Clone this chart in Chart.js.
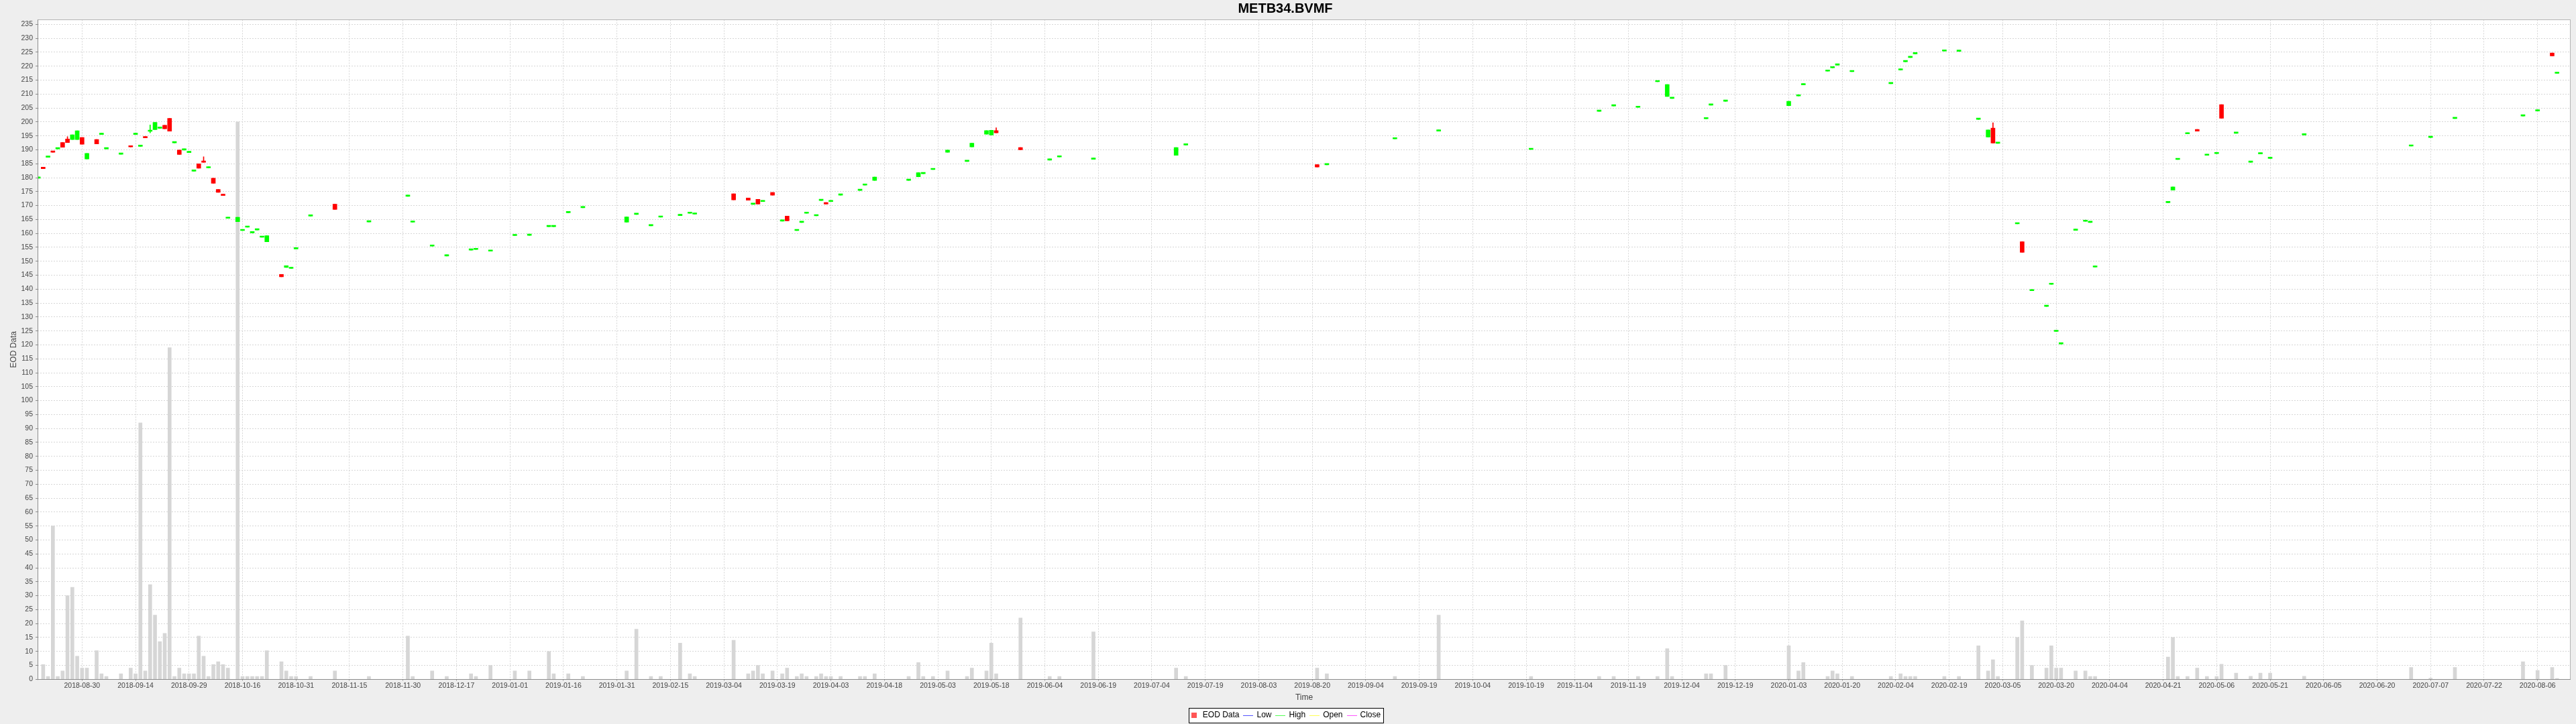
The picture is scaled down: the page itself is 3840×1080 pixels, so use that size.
<!DOCTYPE html>
<html>
<head>
<meta charset="utf-8">
<title>METB34.BVMF</title>
<script src="https://cdn.jsdelivr.net/npm/chart.js@4.4.0/dist/chart.umd.min.js"></script>
<style>
  html, body { margin: 0; padding: 0; background: #eeeeee; }
  #wrap { width: 3840px; height: 1080px; }
</style>
</head>
<body>
<div id="wrap"><canvas id="eodChart" width="3840" height="1080"></canvas></div>
<script>
// EOD candles for METB34 (trading days only, gaps where nothing traded)
const dates = [
  '2018-08-17','2018-08-20','2018-08-21','2018-08-22','2018-08-23','2018-08-24','2018-08-27','2018-08-28','2018-08-29','2018-08-30',
  '2018-08-31','2018-09-04','2018-09-05','2018-09-06','2018-09-11','2018-09-13','2018-09-14','2018-09-17','2018-09-18','2018-09-19',
  '2018-09-20','2018-09-21','2018-09-24','2018-09-25','2018-09-26','2018-09-27','2018-09-28','2018-10-01','2018-10-02','2018-10-03',
  '2018-10-04','2018-10-05','2018-10-08','2018-10-09','2018-10-10','2018-10-11','2018-10-15','2018-10-16','2018-10-17','2018-10-18',
  '2018-10-19','2018-10-22','2018-10-23','2018-10-26','2018-10-29','2018-10-30','2018-10-31','2018-11-05','2018-11-12','2018-11-21',
  '2018-12-03','2018-12-04','2018-12-10','2018-12-13','2018-12-20','2018-12-21','2018-12-26','2019-01-02','2019-01-07','2019-01-11',
  '2019-01-14','2019-01-17','2019-01-22','2019-02-04','2019-02-06','2019-02-11','2019-02-13','2019-02-19','2019-02-21','2019-02-22',
  '2019-03-06','2019-03-11','2019-03-12','2019-03-13','2019-03-14','2019-03-18','2019-03-20','2019-03-21','2019-03-25','2019-03-26',
  '2019-03-27','2019-03-29','2019-04-01','2019-04-02','2019-04-03','2019-04-05','2019-04-11','2019-04-12','2019-04-16','2019-04-25',
  '2019-04-29','2019-04-30','2019-05-02','2019-05-07','2019-05-13','2019-05-14','2019-05-17','2019-05-20','2019-05-21','2019-05-28',
  '2019-06-05','2019-06-07','2019-06-18','2019-07-11','2019-07-15','2019-08-21','2019-08-23','2019-09-12','2019-09-25','2019-10-22',
  '2019-11-11','2019-11-14','2019-11-21','2019-11-27','2019-11-29','2019-12-02','2019-12-11','2019-12-12','2019-12-17','2020-01-03',
  '2020-01-07','2020-01-08','2020-01-15','2020-01-16','2020-01-17','2020-01-22','2020-02-03','2020-02-05','2020-02-06','2020-02-07',
  '2020-02-10','2020-02-18','2020-02-21','2020-02-27','2020-03-02','2020-03-03','2020-03-04','2020-03-10','2020-03-11','2020-03-13',
  '2020-03-18','2020-03-19','2020-03-20','2020-03-23','2020-03-26','2020-03-30','2020-03-31','2020-04-01','2020-04-22','2020-04-23',
  '2020-04-24','2020-04-28','2020-04-30','2020-05-04','2020-05-06','2020-05-07','2020-05-12','2020-05-15','2020-05-19','2020-05-21',
  '2020-06-01','2020-07-01','2020-07-07','2020-07-14','2020-08-03','2020-08-06','2020-08-11','2020-08-12'
];

const opens = [
  179.8, 183.8, 187.3, 189.5, 190.3, 192.6, 193.9, 193.7, 193.7, 194.4,
  186.7, 193.7, 195.5, 190.3, 188.4, 191.4, 195.5, 191.2, 194.7, 196.6,
  197.2, 197.7, 198.8, 201.3, 192.5, 189.9, 189.9, 189.0, 182.3, 185.0,
  185.8, 183.5, 179.8, 175.8, 174.0, 165.4, 164.2, 161.0, 162.2, 160.2,
  161.2, 158.6, 157.0, 145.3, 147.8, 147.4, 154.4, 166.2, 170.5, 164.1,
  173.3, 164.0, 155.4, 151.9, 154.0, 154.2, 153.6, 159.2, 159.3, 162.4,
  162.4, 167.4, 169.2, 164.0, 166.8, 162.7, 165.8, 166.4, 167.2, 166.9,
  174.2, 172.7, 170.4, 172.2, 171.4, 174.7, 164.4, 166.2, 161.0, 163.9,
  167.2, 166.3, 171.8, 171.1, 171.4, 173.7, 175.4, 177.3, 179.0, 179.0,
  180.3, 181.4, 182.9, 189.1, 185.8, 191.0, 195.6, 195.3, 196.9, 190.8,
  186.3, 187.4, 186.6, 188.0, 191.7, 184.7, 184.6, 193.9, 196.7, 190.1,
  203.8, 205.7, 205.2, 214.4, 209.1, 208.4, 201.1, 206.0, 207.4, 205.8,
  209.3, 213.3, 218.2, 219.4, 220.4, 218.0, 213.7, 218.6, 221.6, 223.1,
  224.4, 225.4, 225.3, 200.9, 194.6, 197.8, 192.3, 163.4, 157.0, 139.4,
  133.8, 141.7, 124.8, 120.3, 161.1, 164.3, 163.9, 147.9, 171.0, 175.5,
  186.5, 195.7, 197.3, 188.0, 188.6, 206.2, 195.9, 185.5, 188.5, 186.9,
  195.3, 191.3, 194.4, 201.2, 202.1, 203.9, 224.7, 217.4
];

const highs = [
  180.2, 183.8, 187.7, 189.5, 190.7, 192.6, 194.7, 195.4, 196.8, 194.4,
  188.7, 193.7, 195.9, 190.7, 188.8, 191.4, 195.9, 191.6, 194.7, 198.9,
  199.8, 198.1, 198.8, 201.3, 192.9, 189.9, 190.3, 189.4, 182.7, 185.0,
  187.5, 183.9, 179.8, 175.8, 174.0, 165.8, 165.8, 161.4, 162.6, 160.6,
  161.6, 159.0, 159.2, 145.3, 148.4, 147.8, 154.8, 166.6, 170.5, 164.5,
  173.7, 164.4, 155.8, 152.3, 154.4, 154.6, 153.9, 159.6, 159.7, 162.8,
  162.8, 167.8, 169.6, 165.9, 167.2, 163.1, 166.2, 166.8, 167.6, 167.3,
  174.2, 172.7, 170.8, 172.2, 171.8, 174.7, 164.8, 166.2, 161.4, 164.3,
  167.6, 166.7, 172.2, 171.1, 171.8, 174.1, 175.8, 177.7, 180.2, 179.4,
  181.8, 181.8, 183.3, 189.9, 186.2, 192.4, 196.9, 197.0, 197.9, 190.8,
  186.7, 187.8, 187.0, 190.8, 192.1, 184.7, 185.0, 194.3, 197.1, 190.5,
  204.2, 206.1, 205.6, 214.8, 213.4, 208.8, 201.5, 206.4, 207.8, 207.4,
  209.7, 213.7, 218.6, 219.8, 220.8, 218.4, 214.1, 219.0, 222.0, 223.5,
  224.8, 225.8, 225.7, 201.3, 197.1, 199.7, 192.7, 163.8, 157.0, 139.8,
  134.2, 142.1, 125.2, 120.7, 161.5, 164.7, 164.3, 148.3, 171.4, 176.7,
  186.9, 196.1, 197.3, 188.4, 189.0, 206.2, 196.3, 185.9, 188.9, 187.3,
  195.7, 191.7, 194.8, 201.6, 202.5, 204.3, 224.7, 217.8
];

const lows = [
  179.8, 183.2, 187.3, 189.1, 190.3, 190.9, 192.6, 193.7, 193.7, 192.0,
  186.7, 192.1, 195.5, 190.3, 188.4, 191.0, 195.5, 191.2, 194.3, 196.1,
  197.2, 197.7, 197.5, 196.7, 192.5, 188.3, 189.9, 189.0, 182.3, 183.4,
  185.5, 183.5, 178.0, 174.7, 173.6, 165.4, 164.2, 161.0, 162.2, 160.2,
  161.2, 158.6, 157.0, 144.4, 147.8, 147.4, 154.4, 166.2, 168.6, 164.1,
  173.3, 164.0, 155.4, 151.9, 154.0, 154.2, 153.6, 159.2, 159.3, 162.4,
  162.4, 167.4, 169.2, 164.0, 166.8, 162.7, 165.8, 166.4, 167.2, 166.9,
  172.0, 171.9, 170.4, 170.5, 171.4, 173.7, 164.4, 164.5, 161.0, 163.9,
  167.2, 166.3, 171.8, 170.5, 171.4, 173.7, 175.4, 177.3, 179.0, 179.0,
  180.3, 181.4, 182.9, 189.1, 185.8, 191.0, 195.6, 195.3, 196.1, 190.0,
  186.3, 187.4, 186.6, 188.0, 191.7, 183.8, 184.6, 193.9, 196.7, 190.1,
  203.8, 205.7, 205.2, 214.4, 209.1, 208.4, 201.1, 206.0, 207.4, 205.8,
  209.3, 213.3, 218.2, 219.4, 220.4, 218.0, 213.7, 218.6, 221.6, 223.1,
  224.4, 225.4, 225.3, 200.9, 194.6, 192.4, 192.3, 163.4, 153.2, 139.4,
  133.8, 141.7, 124.8, 120.3, 161.1, 164.3, 163.9, 147.9, 171.0, 175.5,
  186.5, 195.7, 196.7, 188.0, 188.6, 201.3, 195.9, 185.5, 188.5, 186.9,
  195.3, 191.3, 194.4, 201.2, 202.1, 203.9, 223.7, 217.4
];

const closes = [
  180.2, 183.2, 187.7, 189.1, 190.7, 190.9, 192.6, 195.4, 196.8, 192.0,
  188.7, 192.1, 195.9, 190.7, 188.8, 191.0, 195.9, 191.6, 194.3, 197.0,
  199.8, 198.1, 197.5, 196.7, 192.9, 188.3, 190.3, 189.4, 182.7, 183.4,
  185.5, 183.9, 178.0, 174.7, 173.6, 165.8, 165.8, 161.4, 162.6, 160.6,
  161.6, 159.0, 159.2, 144.4, 148.4, 147.8, 154.8, 166.6, 168.6, 164.5,
  173.7, 164.4, 155.8, 152.3, 154.4, 154.6, 153.9, 159.6, 159.7, 162.8,
  162.8, 167.8, 169.6, 165.9, 167.2, 163.1, 166.2, 166.8, 167.6, 167.3,
  172.0, 171.9, 170.8, 170.5, 171.8, 173.7, 164.8, 164.5, 161.4, 164.3,
  167.6, 166.7, 172.2, 170.5, 171.8, 174.1, 175.8, 177.7, 180.2, 179.4,
  181.8, 181.8, 183.3, 189.9, 186.2, 192.4, 196.9, 197.0, 196.1, 190.0,
  186.7, 187.8, 187.0, 190.8, 192.1, 183.8, 185.0, 194.3, 197.1, 190.5,
  204.2, 206.1, 205.6, 214.8, 213.4, 208.8, 201.5, 206.4, 207.8, 207.4,
  209.7, 213.7, 218.6, 219.8, 220.8, 218.4, 214.1, 219.0, 222.0, 223.5,
  224.8, 225.8, 225.7, 201.3, 197.1, 192.4, 192.7, 163.8, 153.2, 139.8,
  134.2, 142.1, 125.2, 120.7, 161.5, 164.7, 164.3, 148.3, 171.4, 176.7,
  186.9, 196.1, 196.7, 188.4, 189.0, 201.3, 196.3, 185.9, 188.9, 187.3,
  195.7, 191.7, 194.8, 201.6, 202.5, 204.3, 223.7, 217.8
];

const volumes = [
  0, 5.3, 1, 55, 1, 3, 30, 33, 8.3, 4,
  4, 10.3, 2, 1, 2, 4, 2, 92, 3, 34,
  23, 13.5, 16.5, 119, 1, 4, 2, 2, 2, 15.5,
  8.3, 1, 5.3, 6.3, 5.3, 4, 200, 1, 1, 1,
  1, 1, 10.3, 6.3, 3, 1, 1, 1, 3, 1,
  15.5, 1, 3, 1, 2, 1, 5, 3, 3, 10,
  2, 2, 1, 3, 18, 1, 1, 13, 2, 1,
  14, 2, 3, 5, 2, 3, 2, 4, 1, 2,
  1, 1, 2, 1, 1, 1, 1, 1, 2, 1,
  6, 1, 1, 3, 1, 4, 3, 13, 2, 22,
  1, 1, 17, 4, 1, 4, 2, 1, 23, 1,
  1, 1, 1, 1, 11, 1, 2, 2, 5, 12,
  3, 6, 1, 3, 2, 1, 1, 2, 1, 1,
  1, 1, 1, 12, 3, 7, 1, 15, 21, 5,
  4, 12, 4, 4, 3, 3, 1, 1, 8, 15,
  1, 1, 4, 1, 1, 5.4, 2.2, 1.1, 2.2, 2.2,
  1.1, 4.25, 0.4, 4.25, 6.3, 3.2, 4.25, 0.3
];

const tickDates = [
  '2018-08-30','2018-09-14','2018-09-29','2018-10-16','2018-10-31','2018-11-15','2018-11-30','2018-12-17',
  '2019-01-01','2019-01-16','2019-01-31','2019-02-15','2019-03-04','2019-03-19','2019-04-03','2019-04-18',
  '2019-05-03','2019-05-18','2019-06-04','2019-06-19','2019-07-04','2019-07-19','2019-08-03','2019-08-20',
  '2019-09-04','2019-09-19','2019-10-04','2019-10-19','2019-11-04','2019-11-19','2019-12-04','2019-12-19',
  '2020-01-03','2020-01-20','2020-02-04','2020-02-19','2020-03-05','2020-03-20','2020-04-04','2020-04-21',
  '2020-05-06','2020-05-21','2020-06-05','2020-06-20','2020-07-07','2020-07-22','2020-08-06'
];

const legendNames = ['EOD Data', 'Low', 'High', 'Open', 'Close'];
const legendColors = ['#ff5555', '#5555ff', '#55ff55', '#ffff55', '#ff55ff'];

// the time axis skips weekends (Mon-Fri timeline): a date becomes its weekday index
const MONDAY0 = Date.UTC(2018, 7, 27);
function tradingIndex(day) {
  const t = Date.parse(day + 'T00:00:00Z');
  const days = Math.round((t - MONDAY0) / 86400000);
  const week = Math.floor(days / 7);
  return week * 5 + Math.min(days - week * 7, 5);
}

const FONT = "'Liberation Sans', Arial, sans-serif";
Chart.defaults.font.family = FONT;

const candleColor = ctx => closes[ctx.dataIndex] > opens[ctx.dataIndex] ? '#00ff00' : '#ff0000';

function swatch(w, h, color) {
  const c = document.createElement('canvas');
  c.width = w; c.height = h;
  const g = c.getContext('2d');
  g.fillStyle = color;
  g.fillRect(0, 0, w, h);
  return c;
}

const plotFrame = {
  id: 'plotFrame',
  beforeDraw(chart) {
    const {ctx, chartArea: a} = chart;
    ctx.save();
    ctx.fillStyle = '#eeeeee';
    ctx.fillRect(0, 0, chart.width, chart.height);
    ctx.fillStyle = '#ffffff';
    ctx.fillRect(a.left, a.top, a.right - a.left, a.bottom - a.top);
    // legend box
    const hb = chart.legend.legendHitBoxes;
    if (hb && hb.length) {
      const l = Math.round(Math.min(...hb.map(b => b.left)) - 2) + 0.5;
      const r = Math.round(Math.max(...hb.map(b => b.left + b.width)) + 4) + 0.5;
      const t = Math.round(hb[0].top - 5) + 0.5;
      const b = Math.round(hb[0].top + hb[0].height + 5) + 0.5;
      ctx.fillStyle = '#ffffff';
      ctx.fillRect(l, t, r - l, b - t);
      ctx.strokeStyle = '#000000';
      ctx.lineWidth = 1;
      ctx.strokeRect(l, t, r - l, b - t);
    }
    ctx.restore();
  },
  afterDatasetsDraw(chart) {
    const {ctx, chartArea: a} = chart;
    ctx.save();
    ctx.lineWidth = 1;
    ctx.strokeStyle = '#b4b4b4';
    ctx.strokeRect(Math.round(a.left) + 0.5, Math.round(a.top) + 0.5,
                   Math.round(a.right - a.left) - 1, Math.round(a.bottom - a.top));
    ctx.strokeStyle = '#8c8c8c';
    ctx.beginPath();
    ctx.moveTo(Math.round(a.left) + 0.5, a.top);
    ctx.lineTo(Math.round(a.left) + 0.5, a.bottom + 1);
    ctx.moveTo(a.left, Math.round(a.bottom) + 0.5);
    ctx.lineTo(a.right, Math.round(a.bottom) + 0.5);
    ctx.stroke();
    ctx.restore();
  }
};

new Chart(document.getElementById('eodChart'), {
  type: 'bar',
  data: {
    datasets: [
      {
        label: 'EOD Data',
        data: dates.map((d, i) => ({x: tradingIndex(d), y: [opens[i], closes[i]]})),
        backgroundColor: candleColor,
        barThickness: 6,
        minBarLength: 2,
        stack: 'ohlc',
        order: 1
      },
      {
        label: 'High-Low',
        data: dates.map((d, i) => ({x: tradingIndex(d), y: [lows[i], highs[i]]})),
        backgroundColor: candleColor,
        barThickness: 1,
        stack: 'ohlc',
        order: 2
      },
      {
        label: 'Volume',
        data: dates.map((d, i) => ({x: tradingIndex(d), y: volumes[i]})),
        backgroundColor: '#d6d6d6',
        barThickness: 5,
        stack: 'ohlc',
        order: 3
      }
    ]
  },
  options: {
    responsive: false,
    devicePixelRatio: 1,
    animation: false,
    events: [],
    layout: { padding: { left: 0, right: 8, top: 0, bottom: -3 } },
    plugins: {
      tooltip: { enabled: false },
      title: {
        display: true,
        text: 'METB34.BVMF',
        color: '#000000',
        font: { family: FONT, size: 20, weight: 'bold', lineHeight: 1 },
        padding: { top: 3, bottom: 6.3 }
      },
      legend: {
        position: 'bottom',
        onClick: () => {},
        labels: {
          usePointStyle: true,
          pointStyleWidth: 13,
          padding: 7,
          color: '#000000',
          font: { family: FONT, size: 12 },
          generateLabels: () => legendNames.map((name, i) => ({
            text: name,
            pointStyle: i === 0 ? swatch(8, 8, legendColors[i]) : swatch(15, 1, legendColors[i]),
            fillStyle: legendColors[i],
            strokeStyle: legendColors[i],
            lineWidth: 0,
            hidden: false,
            datasetIndex: 0
          }))
        }
      }
    },
    scales: {
      x: {
        type: 'linear',
        min: -6.15,
        max: 514.8,
        offset: false,
        afterBuildTicks: s => { s.ticks = tickDates.map(d => ({value: tradingIndex(d)})); },
        afterFit: s => { s.height = 1083 - s.chart.legend.height - 1013.3; },
        ticks: {
          autoSkip: false,
          maxRotation: 0,
          padding: 2,
          color: '#444444',
          font: { family: FONT, size: 10.5 },
          callback: (v, i) => tickDates[i]
        },
        grid: { offset: false, color: '#d6d6d6', lineWidth: 1, tickLength: 2, tickColor: '#8c8c8c' },
        border: { display: false, dash: [2, 2] },
        title: {
          display: true,
          text: 'Time',
          color: '#444444',
          font: { family: FONT, size: 12 },
          padding: { top: 0, bottom: 6 }
        }
      },
      y: {
        min: 0,
        max: 236.7,
        stacked: false,
        afterFit: s => { s.width = 56; },
        ticks: {
          stepSize: 5,
          includeBounds: false,
          autoSkip: false,
          padding: 4,
          color: '#444444',
          font: { family: FONT, size: 10.5 }
        },
        grid: { color: '#d6d6d6', lineWidth: 1, tickLength: 3, tickColor: '#8c8c8c' },
        border: { display: false, dash: [2, 2] },
        title: {
          display: true,
          text: 'EOD Data',
          color: '#444444',
          font: { family: FONT, size: 12 },
          padding: { top: 13, bottom: 0 }
        }
      }
    }
  },
  plugins: [plotFrame]
});
</script>
</body>
</html>
